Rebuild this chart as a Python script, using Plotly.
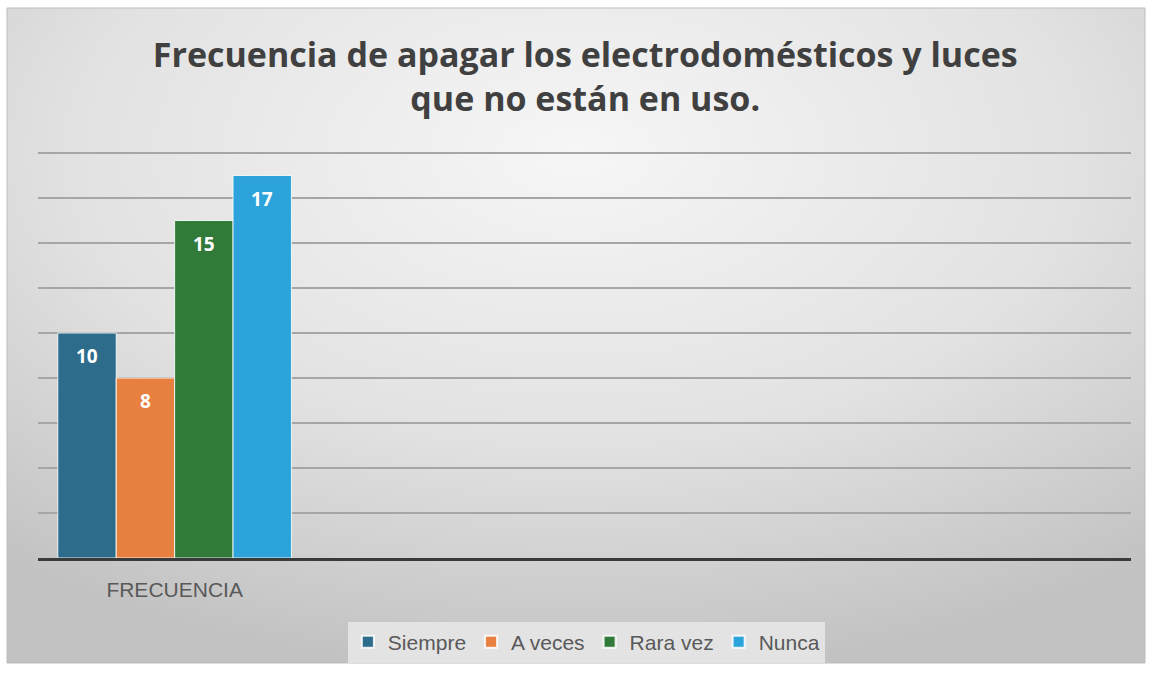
import base64
import plotly.graph_objects as go

# ---- data ----
categories = ["FRECUENCIA"]
series_names = ["Siempre", "A veces", "Rara vez", "Nunca"]
series_values = [[10], [8], [15], [17]]
series_colors = ["#2E6C8C", "#E8803F", "#327A3A", "#2CA3DA"]
title_text = "Frecuencia de apagar los electrodomésticos y luces<br>que no están en uso."

W, H = 1152, 679

# background gradient (chart area) as an SVG data URI
svg = (
    '<svg xmlns="http://www.w3.org/2000/svg" width="1138" height="655" viewBox="0 0 1138 655" preserveAspectRatio="none">'
    '<defs><radialGradient id="g" cx="50%" cy="22%" r="80%" fx="50%" fy="22%">'
    '<stop offset="0" stop-color="#f6f6f6"/>'
    '<stop offset="0.55" stop-color="#e2e2e2"/>'
    '<stop offset="1" stop-color="#c2c2c2"/>'
    '</radialGradient></defs>'
    '<rect width="1138" height="655" fill="url(#g)"/></svg>'
)
svg_uri = "data:image/svg+xml;base64," + base64.b64encode(svg.encode()).decode()

n = len(series_names)
group_frac = 0.855           # fraction of category slot used by the group
bar_w = group_frac / n

fig = go.Figure()
annotations = []
for i, (name, vals, col) in enumerate(zip(series_names, series_values, series_colors)):
    off = -group_frac / 2 + i * bar_w
    xs = list(range(len(categories)))
    fig.add_trace(go.Bar(
        x=xs,
        y=vals,
        name=name,
        offset=off,
        width=bar_w,
        marker=dict(color=col, line=dict(color="rgba(255,255,255,0.85)", width=1)),
        hoverinfo="skip",
    ))
    for xv, v in zip(xs, vals):
        annotations.append(dict(
            x=xv + off + bar_w / 2, y=v, xref="x", yref="y",
            text=str(v), showarrow=False,
            yanchor="middle", yshift=-23,
            font=dict(family="Open Sans, Arial, sans-serif", size=19, color="white", weight="bold"),
        ))

def px_x(p):
    return p / W

def px_y(p):
    return 1 - p / H

fig.update_layout(
    width=W, height=H,
    margin=dict(l=0, r=0, t=0, b=0),
    paper_bgcolor="white",
    plot_bgcolor="rgba(0,0,0,0)",
    barmode="overlay",
    title=dict(
        text=title_text,
        x=0.508, xanchor="center",
        y=px_y(67), yanchor="middle",
        font=dict(family="Open Sans, Arial, sans-serif", size=34, color="#404040", weight="bold"),
    ),
    xaxis=dict(
        domain=[px_x(38), px_x(1131)],
        range=[-0.5, 3.5],
        tickvals=list(range(len(categories))),
        ticktext=categories,
        tickfont=dict(family="Liberation Sans, Arial, sans-serif", size=21, color="#595959"),
        ticks="",
        ticklabelstandoff=11,
        showgrid=False,
        zeroline=False,
        showline=True,
        linecolor="#3a3a3a",
        linewidth=3,
        fixedrange=True,
    ),
    yaxis=dict(
        domain=[px_y(558), px_y(151)],
        range=[0, 18.09],
        dtick=2,
        showticklabels=False,
        showgrid=True,
        gridcolor="#a6a6a6",
        gridwidth=1.5,
        zeroline=False,
        showline=False,
        fixedrange=True,
    ),
    legend=dict(
        orientation="h",
        x=0.509, xanchor="center",
        y=px_y(642), yanchor="middle",
        bgcolor="#e3e3e3",
        font=dict(family="Liberation Sans, Arial, sans-serif", size=21, color="#595959"),
        itemsizing="constant",
        traceorder="normal",
        itemwidth=30,
    ),
    annotations=annotations,
    images=[dict(
        source=svg_uri,
        xref="paper", yref="paper",
        x=px_x(7), y=px_y(8),
        sizex=(1145 - 7) / W, sizey=(663 - 8) / H,
        xanchor="left", yanchor="top",
        sizing="stretch",
        layer="below",
    )],
    shapes=[dict(
        type="rect", xref="paper", yref="paper",
        x0=px_x(7), x1=px_x(1145), y0=px_y(663), y1=px_y(8),
        line=dict(color="#bdbdbd", width=1),
        fillcolor="rgba(0,0,0,0)",
        layer="above",
    )],
    showlegend=True,
)

fig.write_html("out.html")
